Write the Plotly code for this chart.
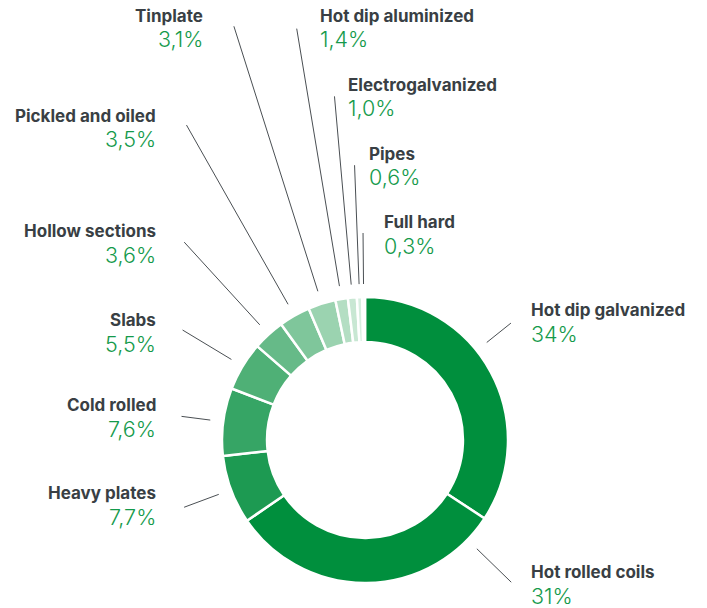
import math
import plotly.graph_objects as go

# ---- data ----
categories = ["Hot dip galvanized", "Hot rolled coils", "Heavy plates", "Cold rolled",
              "Slabs", "Hollow sections", "Pickled and oiled", "Tinplate",
              "Hot dip aluminized", "Electrogalvanized", "Pipes", "Full hard"]
values = [34, 31, 7.7, 7.6, 5.5, 3.6, 3.5, 3.1, 1.4, 1.0, 0.6, 0.3]
value_labels = ["34%", "31%", "7,7%", "7,6%", "5,5%", "3,6%", "3,5%", "3,1%",
                "1,4%", "1,0%", "0,6%", "0,3%"]

# ---- styles / layout ----
colors = ["#008f3d", "#008f3d", "#1d9a52", "#36a565", "#4fb076", "#66ba88",
          "#7fc69b", "#9bd3b0", "#b4dec3", "#c8e7d3", "#d8eee0", "#e8f5ec"]
W, H = 707, 608
CX, CY, R = 365, 440, 143    # donut centre/radius in pixels
R_IN_LINE = 156
# label placement: (anchor x px, name centre y px, xanchor, leader outer radius px, angle override deg)
label_layout = {
    "Hot dip galvanized": (530, 310, "left", 187, 51.3),
    "Hot rolled coils": (530, 572, "left", 204, 134.2),
    "Heavy plates": (157, 493, "right", 193, None),
    "Cold rolled": (157, 405, "right", 185, None),
    "Slabs": (157, 320, "right", 213, None),
    "Hollow sections": (157, 231, "right", 268, None),
    "Pickled and oiled": (157, 116, "right", 362, None),
    "Tinplate": (204, 16, "right", 434, None),
    "Hot dip aluminized": (319, 16, "left", 417, None),
    "Electrogalvanized": (347, 85, "left", 345, None),
    "Pipes": (368, 154, "left", 275, None),
    "Full hard": (383, 222, "left", 207, None),
}
NAME_COLOR = "#393f44"
VALUE_COLOR = "#149a4b"
LINE_COLOR = "#4a4f53"
FAMILY = "Inter"


def px(x):
    return x / W


def py(y):
    return (H - y) / H


fig = go.Figure(go.Pie(
    labels=categories, values=values, sort=False, direction="clockwise",
    rotation=0, hole=0.685, textinfo="none", hoverinfo="label+percent",
    marker=dict(colors=colors, line=dict(color="white", width=2.5)),
    domain=dict(x=[px(CX - R), px(CX + R)], y=[py(CY + R), py(CY - R)]),
    showlegend=False,
))

total = sum(values)
cum = 0
shapes, annotations = [], []
for name, v, vl in zip(categories, values, value_labels):
    mid = (cum + v / 2) / total * 360
    cum += v
    ax, ny, xa, r_out, ang = label_layout[name]
    a = math.radians(ang if ang is not None else mid)
    dx, dy = math.sin(a), -math.cos(a)
    x0, y0 = CX + R_IN_LINE * dx, CY + R_IN_LINE * dy
    x1, y1 = CX + r_out * dx, CY + r_out * dy
    shapes.append(dict(type="line", xref="paper", yref="paper",
                       x0=px(x0), y0=py(y0), x1=px(x1), y1=py(y1),
                       line=dict(color=LINE_COLOR, width=1)))
    annotations.append(dict(xref="paper", yref="paper", x=px(ax), y=py(ny),
                            xanchor=xa, yanchor="middle", showarrow=False, borderpad=0,
                            text=name,
                            font=dict(family=FAMILY, size=17, color=NAME_COLOR, weight=700)))
    annotations.append(dict(xref="paper", yref="paper", x=px(ax), y=py(ny + 23.5),
                            xanchor=xa, yanchor="middle", showarrow=False, borderpad=0,
                            text=vl,
                            font=dict(family=FAMILY, size=21.5, color=VALUE_COLOR, weight=300)))

fig.update_layout(width=W, height=H, autosize=False,
                  margin=dict(l=0, r=0, t=0, b=0),
                  paper_bgcolor="white", plot_bgcolor="white",
                  shapes=shapes, annotations=annotations)
fig.write_html("out.html", config={"displayModeBar": False},
               post_script="document.body.style.margin='0';")
